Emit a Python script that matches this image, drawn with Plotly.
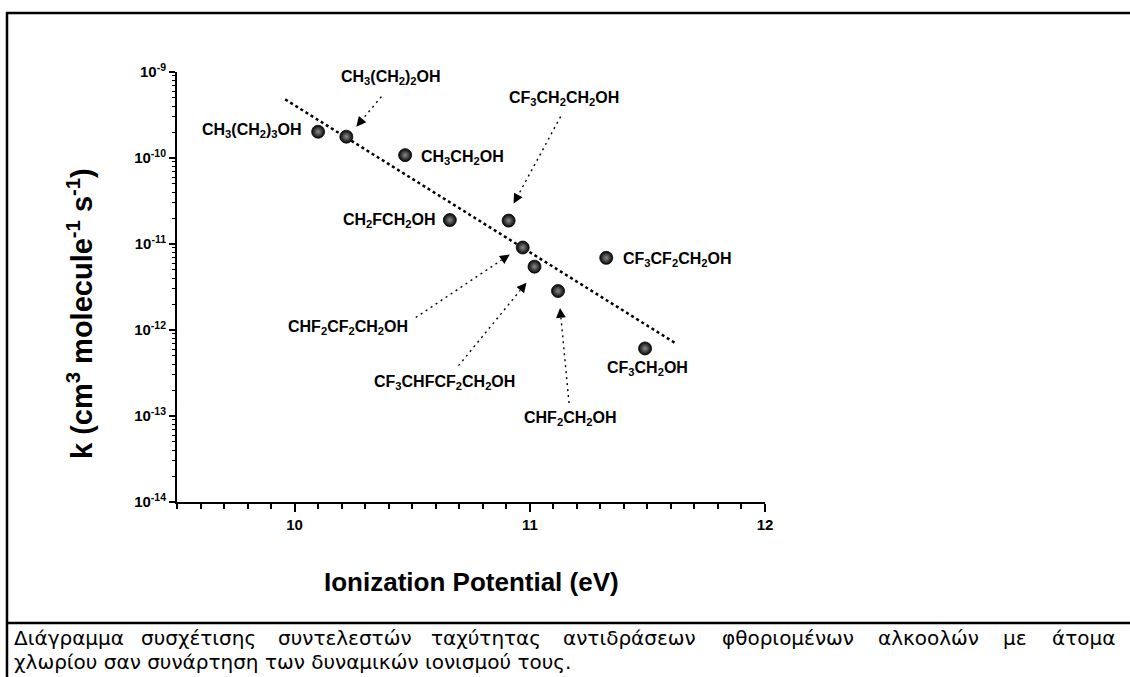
import numpy as np
import plotly.graph_objects as go

# ---------------- data ----------------
compounds = ["CH3(CH2)3OH", "CH3(CH2)2OH", "CH3CH2OH", "CH2FCH2OH", "CF3CH2CH2OH",
             "CHF2CF2CH2OH", "CF3CHFCF2CH2OH", "CHF2CH2OH", "CF3CF2CH2OH", "CF3CH2OH"]
labels = ["CH<sub>3</sub>(CH<sub>2</sub>)<sub>3</sub>OH", "CH<sub>3</sub>(CH<sub>2</sub>)<sub>2</sub>OH",
          "CH<sub>3</sub>CH<sub>2</sub>OH", "CH<sub>2</sub>FCH<sub>2</sub>OH",
          "CF<sub>3</sub>CH<sub>2</sub>CH<sub>2</sub>OH", "CHF<sub>2</sub>CF<sub>2</sub>CH<sub>2</sub>OH",
          "CF<sub>3</sub>CHFCF<sub>2</sub>CH<sub>2</sub>OH", "CHF<sub>2</sub>CH<sub>2</sub>OH",
          "CF<sub>3</sub>CF<sub>2</sub>CH<sub>2</sub>OH", "CF<sub>3</sub>CH<sub>2</sub>OH"]
ionization_ev = [10.10, 10.22, 10.47, 10.66, 10.91, 10.97, 11.02, 11.12, 11.325, 11.49]
rate_k = [2.02e-10, 1.77e-10, 1.08e-10, 1.90e-11, 1.87e-11, 9.1e-12, 5.45e-12, 2.84e-12, 6.9e-12, 6.1e-13]
fit_x = [9.96, 11.62]
fit_k = [4.8e-10, 7.0e-13]
x_ticks = [10, 11, 12]
y_tick_vals = [1e-14, 1e-13, 1e-12, 1e-11, 1e-10, 1e-9]
y_tick_text = ["10<sup>-14</sup>", "10<sup>-13</sup>", "10<sup>-12</sup>", "10<sup>-11</sup>",
               "10<sup>-10</sup>", "10<sup>-9</sup>"]
x_title = "Ionization Potential (eV)"
y_title = "k (cm<sup>3</sup> molecule<sup>-1</sup> s<sup>-1</sup>)"
caption_line1_words = ["Διάγραμμα", "συσχέτισης", "συντελεστών", "ταχύτητας", "αντιδράσεων",
                       "φθοριομένων", "αλκοολών", "με", "άτομα"]
caption_line2 = "χλωρίου σαν συνάρτηση των δυναμικών ιονισμού τους."

# ---------------- layout geometry ----------------
FIG_W, FIG_H = 1130, 677
L, T, PW, PH = 177, 72, 588, 430
X_RANGE = [9.5, 12]
LY_RANGE = [-14, -9]


def to_px(x, k):
    px = L + (x - X_RANGE[0]) / (X_RANGE[1] - X_RANGE[0]) * PW
    py = T + (LY_RANGE[1] - np.log10(k)) / (LY_RANGE[1] - LY_RANGE[0]) * PH
    return px, py


def to_data(px, py):
    x = X_RANGE[0] + (px - L) / PW * (X_RANGE[1] - X_RANGE[0])
    ly = LY_RANGE[1] - (py - T) / PH * (LY_RANGE[1] - LY_RANGE[0])
    return x, 10 ** ly


def paper(px, py):
    return (px - L) / PW, (T + PH - py) / PH


FONT = "Liberation Sans, Arial, sans-serif"
LABEL_FONT = dict(family=FONT, size=16, color="black", weight="bold")

# plain labels: (index, xanchor, xshift, yshift)
plain = [(0, "right", -14, 1), (2, "left", 14, -2), (3, "right", -13, 0),
         (8, "left", 15, -2), (9, "center", 2, -20)]
# arrowed labels: (index, label offset, tail offset, tip offset) in px relative to the point
arrowed = [(1, (45, -59), (35, -40), (10, -10)),
           (4, (55, -122), (52, -104), (5, -17)),
           (5, (-175, 80), (-107, 70), (-13, 7)),
           (6, (-90, 116), (-76, 99), (-8, 16)),
           (7, (12, 127), (11, 112), (2, 17))]

fig = go.Figure()

fig.add_trace(go.Scatter(x=fit_x, y=fit_k, mode="lines",
                         line=dict(color="black", width=2.5, dash="dot"),
                         hoverinfo="skip", showlegend=False))

annotations = []
for idx, lab_off, tail_off, tip_off in arrowed:
    ppx, ppy = to_px(ionization_ev[idx], rate_k[idx])
    tx, ty = ppx + tail_off[0], ppy + tail_off[1]
    hx, hy = ppx + tip_off[0], ppy + tip_off[1]
    d = np.hypot(hx - tx, hy - ty)
    ux, uy = (hx - tx) / d, (hy - ty) / d
    head = 10
    sx, sy = hx - ux * head, hy - uy * head
    a = to_data(tx, ty)
    b = to_data(sx, sy)
    fig.add_trace(go.Scatter(x=[a[0], b[0]], y=[a[1], b[1]], mode="lines",
                             line=dict(color="black", width=1.4, dash="2px,4px"),
                             hoverinfo="skip", showlegend=False))
    tip = to_data(hx, hy)
    annotations.append(dict(x=tip[0], y=np.log10(tip[1]), xref="x", yref="y", text="",
                            showarrow=True, arrowhead=2, arrowsize=1.3, arrowwidth=1.5,
                            arrowcolor="black", ax=-ux * head, ay=-uy * head))
    annotations.append(dict(x=ionization_ev[idx], y=np.log10(rate_k[idx]), xref="x", yref="y",
                            text=labels[idx], showarrow=False, xanchor="center", yanchor="middle",
                            xshift=lab_off[0], yshift=-lab_off[1], font=LABEL_FONT))

for idx, xa, xs, ys in plain:
    annotations.append(dict(x=ionization_ev[idx], y=np.log10(rate_k[idx]), xref="x", yref="y",
                            text=labels[idx], showarrow=False, xanchor=xa, yanchor="middle",
                            xshift=xs, yshift=ys, font=LABEL_FONT))

fig.add_trace(go.Scatter(x=ionization_ev, y=rate_k, mode="markers", text=compounds,
                         marker=dict(size=13, color="#050505",
                                     gradient=dict(type="radial", color="#8c8c8c"),
                                     line=dict(width=0.8, color="black")),
                         showlegend=False))

# axis titles
xt = paper(471, 582)
annotations.append(dict(x=xt[0], y=xt[1], xref="paper", yref="paper", text=x_title, showarrow=False,
                        xanchor="center", yanchor="middle",
                        font=dict(family=FONT, size=26, color="black", weight="bold")))
yt = paper(80, 314)
annotations.append(dict(x=yt[0], y=yt[1], xref="paper", yref="paper", text=y_title, showarrow=False,
                        textangle=-90, xanchor="center", yanchor="middle",
                        font=dict(family=FONT, size=29, color="black", weight="bold")))

# caption (first line justified: word anchors in px)
CAP_FONT = dict(family="DejaVu Sans, sans-serif", size=20, color="black")
word_place = [(12, "left"), (198, "center"), (345, "center"), (486, "center"), (629, "center"),
              (788, "center"), (928, "center"), (1015, "center"), (1117, "right")]
for word, (wx, anchor) in zip(caption_line1_words, word_place):
    p = paper(wx, 638)
    annotations.append(dict(x=p[0], y=p[1], xref="paper", yref="paper", text=word, showarrow=False,
                            xanchor=anchor, yanchor="middle", font=CAP_FONT))
c2 = paper(12, 662)
annotations.append(dict(x=c2[0], y=c2[1], xref="paper", yref="paper", text=caption_line2, showarrow=False,
                        xanchor="left", yanchor="middle", font=CAP_FONT))

# frame
b0 = paper(7, 13)
b1 = paper(1140, 720)
s0 = paper(7, 623)
s1 = paper(1140, 623)
shapes = [dict(type="rect", xref="paper", yref="paper", x0=b0[0], y0=b0[1], x1=b1[0], y1=b1[1],
               line=dict(color="black", width=2.5), fillcolor="rgba(0,0,0,0)", layer="below"),
          dict(type="line", xref="paper", yref="paper", x0=s0[0], y0=s0[1], x1=s1[0], y1=s1[1],
               line=dict(color="black", width=2.5))]

minor_y = [m * 10.0 ** e for e in range(LY_RANGE[0], LY_RANGE[1]) for m in range(2, 10)]

fig.update_layout(
    width=FIG_W, height=FIG_H, autosize=False,
    margin=dict(l=L, r=FIG_W - L - PW, t=T, b=FIG_H - T - PH, pad=0),
    paper_bgcolor="white", plot_bgcolor="white",
    showlegend=False,
    annotations=annotations,
    shapes=shapes,
    xaxis=dict(range=X_RANGE, showgrid=False, zeroline=False, showline=True, linecolor="black",
               linewidth=2, ticks="outside", ticklen=8, tickwidth=1.5, tickcolor="black",
               tickmode="array", tickvals=x_ticks, ticktext=[f"<b>{v}</b>" for v in x_ticks],
               tickfont=dict(family=FONT, size=15, color="black"),
               minor=dict(ticks="outside", ticklen=5, tickwidth=1.5, tickcolor="black",
                          tickmode="linear", dtick=0.1, tick0=9.5, showgrid=False)),
    yaxis=dict(type="log", range=LY_RANGE, showgrid=False, zeroline=False, showline=True,
               linecolor="black", linewidth=2, ticks="outside", ticklen=6, tickwidth=1.5,
               tickcolor="black", tickmode="array", tickvals=y_tick_vals,
               ticktext=[f"<b>{t}</b>" for t in y_tick_text],
               tickfont=dict(family=FONT, size=15, color="black"),
               minor=dict(ticks="outside", ticklen=3, tickwidth=1, tickcolor="black",
                          tickmode="array", tickvals=minor_y, showgrid=False)),
)

fig.write_html("out.html", config={"displayModeBar": False},
               post_script="document.body.style.margin='0';")
